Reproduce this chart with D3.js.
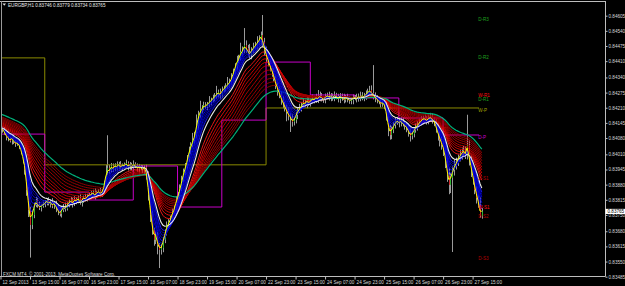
<!DOCTYPE html>
<html>
<head>
<meta charset="utf-8">
<script src="https://cdn.jsdelivr.net/npm/d3@7"></script>
<style>
  html, body { margin: 0; padding: 0; background: #000; overflow: hidden; }
  svg { display: block; }
</style>
</head>
<body>
<svg id="chart" width="625" height="286"></svg>
<script>
const titleText = "EURGBP,H1  0.83746 0.83779 0.83734 0.83765";
const copyrightText = "FXCM MT4, \u00a9 2001-2013, MetaQuotes Software Corp.";
const lastPrice = 0.83765;

// time axis: label every 16 H1 bars
const timeTickBars = [0, 16, 32, 48, 64, 80, 96, 112, 128, 144, 160, 176, 192, 208, 224, 240, 256];
const timeTickLabels = ["12 Sep 2013", "13 Sep 15:00", "16 Sep 07:00", "16 Sep 23:00", "17 Sep 15:00",
  "18 Sep 07:00", "18 Sep 23:00", "19 Sep 15:00", "20 Sep 07:00", "22 Sep 23:00", "23 Sep 15:00",
  "24 Sep 07:00", "24 Sep 23:00", "25 Sep 15:00", "26 Sep 07:00", "26 Sep 23:00", "27 Sep 15:00"];

const priceTicks = [0.84605, 0.84540, 0.84475, 0.84410, 0.84340, 0.84275, 0.84210, 0.84145, 0.84080,
  0.84010, 0.83945, 0.83880, 0.83815, 0.83750, 0.83680, 0.83615, 0.83550, 0.83485];

// H1 bars, prices in points (1e-5)
const firstOpen = 84130;
const closes = [
  84123, 84115, 84101,
  84084, 84076, 84067, 84080, 84063, 84054, 84058, 84046,
  84020, 83986, 83943,
  83857, 83771, 83707,
  83750, 83793, 83814,
  83793, 83780, 83788, 83797,
  83801, 83814, 83797, 83806, 83788, 83801,
  83780, 83763, 83754, 83771, 83788, 83776, 83797,
  83806, 83814, 83797, 83818, 83810, 83823, 83801, 83814, 83827, 83818, 83831,
  83840, 83836, 83849, 83831, 83844, 83853, 83840, 83849,
  83879, 83935, 83952,
  83943, 83961, 83948, 83965,
  83956, 83969, 83952, 83965, 83961, 83973, 83956, 83965, 83952, 83969, 83961, 83948, 83956,
  83952, 83943, 83956, 83922,
  83836, 83750, 83685, 83643, 83664, 83621, 83600,
  83608, 83643, 83677,
  83707, 83720, 83737, 83763, 83780,
  83814, 83836, 83866, 83900, 83935, 83961, 83991, 84028, 84050, 84072, 84093,
  84136, 84179, 84200,
  84209, 84222, 84218, 84226, 84235, 84243, 84252, 84261,
  84269, 84278, 84265, 84286, 84295, 84303, 84312, 84321,
  84338, 84363, 84389, 84415, 84423, 84449, 84458, 84479,
  84466, 84449, 84436, 84458, 84471, 84479, 84492,
  84501, 84522, 84492, 84458,
  84423, 84406, 84380, 84363, 84338,
  84308, 84286, 84265, 84243, 84226, 84209, 84192, 84174,
  84166, 84149, 84157, 84179, 84200, 84209,
  84222, 84235, 84226, 84243, 84230, 84239, 84252, 84243,
  84256, 84248, 84261, 84252, 84243, 84256, 84265, 84256,
  84261, 84252, 84265, 84256, 84248, 84261, 84252, 84243, 84256, 84248, 84239,
  84243, 84252, 84256, 84248, 84261, 84252, 84265, 84256,
  84269, 84278, 84286, 84273, 84261, 84252,
  84243, 84235, 84226, 84230, 84222,
  84179, 84123, 84093, 84115,
  84136, 84149, 84157, 84144, 84153, 84140, 84131,
  84123, 84106, 84089, 84097, 84115, 84127, 84140, 84149,
  84157, 84166, 84162, 84153, 84166, 84170, 84157, 84149,
  84123, 84093, 84072, 84050, 84028, 83986,
  83922, 83879, 83909, 83943, 83965,
  83978, 83995, 84008, 84020, 84028, 84008,
  84050, 83986, 83943, 83900,
  83857, 83823, 83793, 83746, 83765
];
// wick length above / below the body, points
const wickUp = [
  8, 6, 12, 9, 5, 10, 7, 14, 8, 9, 6, 12, 8, 10, 15, 12, 14, 18, 9, 12,
  8, 14, 7, 10, 12, 6, 12, 9, 16, 7, 10, 12, 6, 14, 9, 15, 7, 10, 13, 8,
  12, 7, 10, 15, 9, 6, 14, 10, 7, 12, 9, 15, 10, 7, 13, 9, 18, 30, 140, 14,
  12, 10, 7, 15, 9, 12, 6, 10, 14, 7, 12, 9, 15, 7, 10, 13, 9, 12, 7, 10,
  15, 12, 18, 10, 14, 12, 9, 16, 12, 10, 15, 12, 9, 14, 10, 16, 12, 15, 18, 14,
  12, 16, 15, 12, 30, 14, 45, 18, 40, 12, 14, 12, 9, 25, 10, 14, 12, 35, 10, 14,
  15, 10, 12, 30, 14, 20, 15, 12, 18, 14, 40, 15, 73, 20, 14, 35, 12, 18, 14, 25,
  20, 15, 86, 18, 14, 20, 15, 12, 18, 10, 14, 15, 12, 18, 10, 14, 20, 12, 15, 10,
  14, 12, 18, 10, 15, 9, 14, 12, 10, 15, 9, 14, 30, 18, 12, 9, 15, 10, 14, 12,
  10, 15, 9, 14, 12, 10, 18, 9, 14, 10, 12, 15, 9, 14, 10, 18, 12, 9, 15, 14,
  18, 20, 120, 15, 12, 14, 10, 15, 12, 18, 20, 14, 15, 12, 18, 14, 10, 15, 12, 14,
  15, 12, 18, 14, 10, 15, 12, 14, 18, 10, 15, 12, 14, 18, 15, 12, 14, 20, 18, 15,
  20, 24, 18, 28, 20, 15, 24, 18, 14, 20, 15, 18, 16, 130, 20, 18, 24, 15, 18, 14,
  33, 14
];
const wickDown = [
  8, 12, 7, 14, 10, 6, 15, 9, 12, 7, 14, 10, 15, 20, 25, 30, 140, 18, 14, 10,
  12, 9, 15, 7, 14, 10, 6, 15, 9, 12, 18, 14, 10, 15, 9, 12, 7, 14, 10, 15,
  9, 14, 10, 7, 15, 12, 9, 10, 14, 7, 12, 15, 9, 10, 14, 12, 9, 15, 14, 18,
  10, 14, 9, 15, 12, 7, 14, 10, 9, 15, 12, 10, 14, 9, 12, 15, 10, 14, 18, 20,
  24, 30, 20, 25, 18, 40, 78, 20, 18, 14, 15, 12, 18, 14, 10, 15, 12, 18, 14, 10,
  15, 12, 14, 18, 10, 15, 14, 20, 12, 15, 10, 14, 18, 12, 15, 10, 14, 12, 15, 18,
  14, 10, 15, 12, 18, 14, 15, 12, 18, 14, 10, 15, 14, 20, 18, 15, 18, 14, 12, 18,
  15, 20, 18, 24, 20, 18, 14, 20, 15, 18, 24, 14, 20, 18, 15, 40, 18, 60, 20, 15,
  14, 18, 12, 15, 10, 14, 18, 12, 15, 10, 14, 12, 18, 10, 15, 12, 14, 10, 15, 18,
  12, 14, 10, 15, 18, 12, 14, 10, 15, 12, 14, 18, 10, 15, 12, 14, 10, 18, 12, 15,
  14, 12, 15, 18, 14, 10, 15, 12, 18, 24, 35, 20, 18, 14, 15, 12, 18, 14, 10, 15,
  18, 20, 24, 15, 14, 12, 15, 10, 14, 18, 12, 15, 14, 10, 15, 18, 20, 24, 28, 20,
  25, 35, 30, 40, 35, 318, 24, 20, 18, 15, 20, 14, 18, 20, 24, 30, 20, 18, 24, 12,
  8, 12
];

const yellowPeriod = 2, yellowStart = 84126;
const bluePeriods = [3, 4, 5, 6, 7, 8, 9];
const blueStarts = [84126, 84126, 84125, 84125, 84125, 84124, 84124];
const whitePeriod = 11, whiteStart = 84124;
const redPeriods = [16, 19, 22, 25, 28, 32, 36, 40, 44, 48];
const redStarts = [84128, 84133, 84138, 84143, 84148, 84153, 84158, 84163, 84168, 84173];
const tealPeriod = 55, tealStart = 84185;

// pivot levels (points)
const dayStartBars = [0, 24, 48, 72, 96, 120, 144, 168, 192, 216, 240];
const dailyPivots = [84097, 83848, 83814, 83960, 83784, 84157, 84406, 84265, 84252, 84166, 84093];
const weekStartBars = [0, 24, 144];
const weeklyPivots = [84424, 83965, 84209];
const pivotEndBar = 259.5;

const levelNames = ["D-R3", "D-R2", "W-R1", "D-R1", "W-P", "D-P", "D-S1", "W-S1", "D-S2", "D-S3"];
const levelValues = [84599, 84436, 84273, 84256, 84209, 84093, 83917, 83793, 83754, 83574];

// ---------------------------------------------------------------
const W = 625, H = 286;
const plotRight = 605.5, plotBottom = 276.5;
const font = "'Liberation Sans', Arial, sans-serif";
const fs = 4.6;

const svg = d3.select("#chart");
svg.append("rect").attr("width", W).attr("height", H).attr("fill", "#000");

const x = d3.scaleLinear().domain([0, 256]).range([0.5, 472.6]);
const y = d3.scaleLinear().domain([0.83485, 0.84605]).range([276.7, 15.7]);
const py = (p) => y(p / 1e5);

svg.append("clipPath").attr("id", "plot")
  .append("rect").attr("x", 2).attr("y", 2).attr("width", plotRight - 2).attr("height", plotBottom - 2);

const plot = svg.append("g").attr("clip-path", "url(#plot)");

const bars = closes.map((c, i) => {
  const o = i ? closes[i - 1] : firstOpen;
  return { i, o, c, h: Math.max(o, c) + wickUp[i], l: Math.min(o, c) - wickDown[i] };
});

// candles
plot.append("g").selectAll("line")
  .data(bars)
  .join("line")
  .attr("x1", (d) => Math.round(x(d.i)) + 0.5)
  .attr("x2", (d) => Math.round(x(d.i)) + 0.5)
  .attr("y1", (d) => py(d.h))
  .attr("y2", (d) => py(d.l))
  .attr("stroke", "#9a9a9a")
  .attr("stroke-width", 1);

plot.append("g").selectAll("rect")
  .data(bars)
  .join("rect")
  .attr("x", (d) => Math.round(x(d.i)))
  .attr("width", 1)
  .attr("y", (d) => py(Math.max(d.o, d.c)))
  .attr("height", (d) => Math.max(1, Math.abs(py(d.o) - py(d.c))))
  .attr("fill", (d) => (d.c >= d.o ? "#2fb52f" : "#d02a2a"));

// pivots (step lines)
const step = d3.line().x((d) => x(d[0])).y((d) => py(d[1])).curve(d3.curveStepAfter);
function stepPoints(starts, levels) {
  const pts = starts.map((b, k) => [b, levels[k]]);
  pts.push([pivotEndBar, levels[levels.length - 1]]);
  return pts;
}
plot.append("path")
  .attr("d", step(stepPoints(weekStartBars, weeklyPivots)))
  .attr("fill", "none").attr("stroke", "#8a8a00").attr("stroke-width", 1);
plot.append("path")
  .attr("d", step(stepPoints(dayStartBars, dailyPivots)))
  .attr("fill", "none").attr("stroke", "#c800c8").attr("stroke-width", 1);

// moving averages
function ema(period, start) {
  const k = 2 / (period + 1);
  let v = start;
  return closes.map((c) => (v = v + k * (c - v)));
}
const maLine = d3.line().x((d, i) => x(i)).y((d) => py(d));

const redColors = ["#ff1a1a", "#f01010", "#e00000", "#d40000", "#c80000", "#bc0000", "#b00000", "#a80000", "#a00000", "#980000"];
redPeriods.forEach((p, k) => {
  plot.append("path").attr("d", maLine(ema(p, redStarts[k])))
    .attr("fill", "none").attr("stroke", redColors[k]).attr("stroke-width", 0.9);
});
plot.append("path").attr("d", maLine(ema(tealPeriod, tealStart)))
  .attr("fill", "none").attr("stroke", "#00b07a").attr("stroke-width", 1.2);

const blueColors = ["#0000ff", "#0000c8", "#0000ff", "#0000b0", "#0000e8", "#00009c", "#1818ff"];
bluePeriods.forEach((p, k) => {
  plot.append("path").attr("d", maLine(ema(p, blueStarts[k])))
    .attr("fill", "none").attr("stroke", blueColors[k]).attr("stroke-width", 0.9);
});
plot.append("path").attr("d", maLine(ema(whitePeriod, whiteStart)))
  .attr("fill", "none").attr("stroke", "#e8e8e8").attr("stroke-width", 1.1);
plot.append("path").attr("d", maLine(ema(yellowPeriod, yellowStart)))
  .attr("fill", "none").attr("stroke", "#ffff00").attr("stroke-width", 1);

// pivot level labels
const levelColor = (name) => {
  if (name === "D-P") return "#c800c8";
  if (name === "W-P") return "#a0a000";
  if (name.startsWith("D-R")) return "#1fa01f";
  if (name.startsWith("D-S")) return "#b40000";
  return "#ff1010";
};
plot.append("g").selectAll("text")
  .data(levelNames)
  .join("text")
  .attr("x", x(259))
  .attr("y", (d, k) => py(levelValues[k]) + 3.6)
  .attr("font-family", font).attr("font-size", fs)
  .attr("fill", (d) => levelColor(d))
  .text((d) => d);

// frame
svg.append("line").attr("x1", 0).attr("x2", plotRight).attr("y1", 1.5).attr("y2", 1.5).attr("stroke", "#bdbdbd");
svg.append("line").attr("x1", 1.5).attr("x2", 1.5).attr("y1", 1).attr("y2", plotBottom).attr("stroke", "#9a9a9a");
svg.append("line").attr("x1", 0).attr("x2", plotRight).attr("y1", plotBottom).attr("y2", plotBottom).attr("stroke", "#bdbdbd");

// price axis
svg.append("g")
  .attr("transform", `translate(${plotRight},0)`)
  .call(d3.axisRight(y).tickValues(priceTicks).tickFormat(d3.format(".5f")).tickSize(2).tickPadding(1))
  .call((g) => g.select(".domain").remove())
  .call((g) => g.selectAll(".tick line").attr("stroke", "#bdbdbd"))
  .call((g) => g.selectAll(".tick text").attr("fill", "#d8d8d8").attr("font-family", font).attr("font-size", fs));
svg.append("line").attr("x1", plotRight).attr("x2", plotRight).attr("y1", 1).attr("y2", plotBottom).attr("stroke", "#bdbdbd");

// last price marker
svg.append("rect").attr("x", plotRight).attr("y", y(lastPrice) - 2.6).attr("width", W - plotRight).attr("height", 5.2).attr("fill", "#fff");
svg.append("text").attr("x", plotRight + 2).attr("y", y(lastPrice) + 1.6)
  .attr("font-family", font).attr("font-size", fs).attr("fill", "#000").text(d3.format(".5f")(lastPrice));

// time axis
svg.append("g")
  .attr("transform", `translate(0,${plotBottom})`)
  .call(d3.axisBottom(x).tickValues(timeTickBars).tickFormat((d, k) => timeTickLabels[k]).tickSize(3).tickPadding(1))
  .call((g) => g.select(".domain").remove())
  .call((g) => g.selectAll(".tick line").attr("stroke", "#bdbdbd"))
  .call((g) => g.selectAll(".tick text")
    .attr("text-anchor", "start").attr("x", 1.5).attr("y", 4).attr("dy", "0.71em")
    .attr("fill", "#d8d8d8").attr("font-family", font).attr("font-size", fs));

// title and copyright
svg.append("path").attr("d", "M2.5,3.5 L6,3.5 L4.25,5.8 Z").attr("fill", "#e0e0e0");
svg.append("text").attr("x", 8).attr("y", 6.8)
  .attr("font-family", font).attr("font-size", fs).attr("fill", "#e8e8e8").text(titleText);
svg.append("text").attr("x", 3).attr("y", 275.5)
  .attr("font-family", font).attr("font-size", fs).attr("fill", "#d8d8d8").text(copyrightText);
</script>
</body>
</html>
